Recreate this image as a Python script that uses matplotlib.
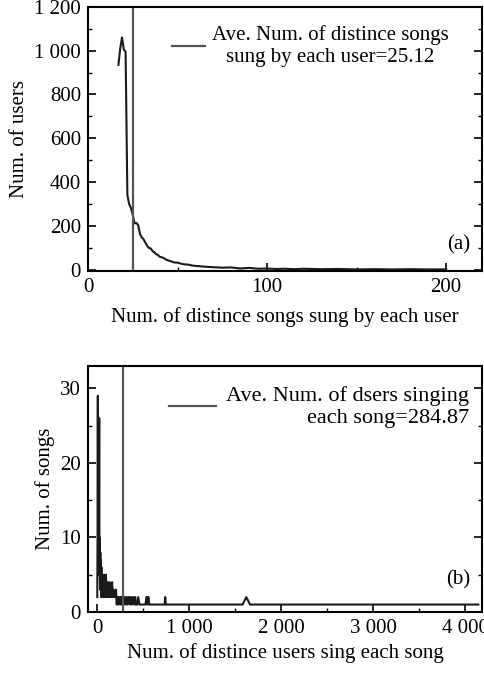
import matplotlib.pyplot as plt
from matplotlib.ticker import MultipleLocator, FuncFormatter

# (a) number of distinct songs sung by each user -> number of users
songs_per_user = [17, 18, 19, 20, 21, 22, 23, 24, 25, 26, 27, 28, 29, 30, 31, 32,
                  33, 34, 35, 36, 37, 38, 39, 40, 42, 44, 46, 48, 50, 52, 54, 56,
                  58, 60, 63, 66, 70, 75, 80, 85, 90, 95, 100, 105, 110, 115, 120,
                  130, 140, 150, 160, 170, 180, 190, 200]
num_users = [935, 1010, 1060, 1005, 995, 340, 300, 282, 250, 212, 214, 205, 165,
             148, 140, 125, 110, 100, 98, 86, 80, 72, 68, 60, 55, 45, 40, 34, 33,
             28, 25, 24, 20, 18, 16, 14, 12, 10, 11, 6, 9, 5, 6, 4, 5, 3, 5, 3, 4,
             2, 3, 2, 3, 2, 2]
avg_songs = 25.12

# (b) number of distinct users singing each song -> number of songs
users_per_song = [1, 4, 7, 10, 13, 16, 19, 22, 25, 28, 31, 34, 37, 40, 43, 46, 49,
                  52, 55, 58, 61, 64, 67, 70, 74, 78, 82, 86, 90, 95, 100, 105, 110,
                  115, 120, 125, 130, 136, 142, 148, 155, 162, 170, 178, 186, 195,
                  205, 212, 220, 228, 236, 244, 252, 260, 268, 276, 290, 300, 310,
                  320, 330, 340, 350, 360, 370, 380, 392, 405, 413, 420, 435, 446,
                  460, 480, 500, 525, 535, 540, 548, 556, 565, 600, 680, 733, 739,
                  745, 800, 1000, 1200, 1400, 1580, 1620, 1660, 2000, 2500, 3000,
                  3500, 4140]
num_songs = [2, 10, 29, 6, 15, 5, 12, 26, 5, 10, 3, 8, 4, 7, 2, 6, 3, 5, 2, 5, 3,
             4, 2, 4, 3, 5, 2, 3, 2, 5, 2, 3, 2, 4, 2, 3, 2, 4, 2, 3, 2, 4, 2, 3,
             2, 2, 3, 1, 2, 1, 2, 2, 1, 2, 1, 2, 1, 2, 1, 2, 1, 2, 2, 1, 2, 1, 2,
             1, 2, 1, 1, 2, 1, 1, 1, 1, 2, 2, 1, 2, 1, 1, 1, 1, 2, 1, 1, 1, 1, 1,
             1, 2, 1, 1, 1, 1, 1, 1]
avg_users = 284.87


def space_thousands(v, pos):
    return f'{v:,.0f}'.replace(',', ' ')


def style_axes(ax):
    ax.tick_params(which='both', direction='in', right=True, labelsize=15, pad=5)
    ax.tick_params(which='major', length=6, width=1.2)
    ax.tick_params(which='minor', length=3, width=1.0)
    for s in ax.spines.values():
        s.set_linewidth(1.5)
    ax.xaxis.set_major_formatter(FuncFormatter(space_thousands))
    ax.yaxis.set_major_formatter(FuncFormatter(space_thousands))


def main():
    plt.rcParams['font.family'] = ['Liberation Serif', 'DejaVu Serif']
    fig = plt.figure(figsize=(4.85, 6.74), dpi=100)

    ax1 = fig.add_axes([0.1814, 0.598, 0.8124, 0.392])
    ax1.plot(songs_per_user, num_users, color='#1a1a1a', lw=1.5)
    ax1.axvline(avg_songs, color='#555555', lw=1.6,
                label='Ave. Num. of distince songs\nsung by each user=25.12')
    ax1.set_xlim(0, 220)
    ax1.set_ylim(-5, 1200)
    ax1.xaxis.set_major_locator(MultipleLocator(100))
    ax1.xaxis.set_minor_locator(MultipleLocator(50))
    ax1.yaxis.set_major_locator(MultipleLocator(200))
    ax1.yaxis.set_minor_locator(MultipleLocator(100))
    style_axes(ax1)
    ax1.set_xlabel('Num. of distince songs sung by each user', fontsize=15, labelpad=7)
    ax1.set_ylabel('Num. of users', fontsize=15, labelpad=4)
    leg1 = ax1.legend(loc='upper right', bbox_to_anchor=(0.962, 1.0), frameon=False,
                      fontsize=15, handlelength=1.6, handletextpad=0.3)
    for t in leg1.get_texts():
        t.set_multialignment('center')
    ax1.text(0.97, 0.1, '(a)', transform=ax1.transAxes, ha='right', va='center',
             fontsize=15)

    ax2 = fig.add_axes([0.1814, 0.092, 0.8124, 0.365])
    ax2.plot(users_per_song, num_songs, color='#1a1a1a', lw=1.5)
    ax2.axvline(avg_users, color='#555555', lw=1.6,
                label='Ave. Num. of dsers singing\neach song=284.87')
    ax2.set_xlim(-100, 4180)
    ax2.set_ylim(0, 33)
    ax2.xaxis.set_major_locator(MultipleLocator(1000))
    ax2.xaxis.set_minor_locator(MultipleLocator(500))
    ax2.yaxis.set_major_locator(MultipleLocator(10))
    ax2.yaxis.set_minor_locator(MultipleLocator(5))
    style_axes(ax2)
    ax2.set_xlabel('Num. of distince users sing each song', fontsize=15, labelpad=4)
    ax2.set_ylabel('Num. of songs', fontsize=15, labelpad=4)
    leg2 = ax2.legend(loc='upper right', bbox_to_anchor=(1.017, 1.0), frameon=False,
                      fontsize=16, handlelength=2.1, handletextpad=0.45)
    for t in leg2.get_texts():
        t.set_multialignment('right')
    ax2.text(0.97, 0.13, '(b)', transform=ax2.transAxes, ha='right', va='center',
             fontsize=15)

    fig.savefig('out.png', dpi=100)


if __name__ == '__main__':
    main()
